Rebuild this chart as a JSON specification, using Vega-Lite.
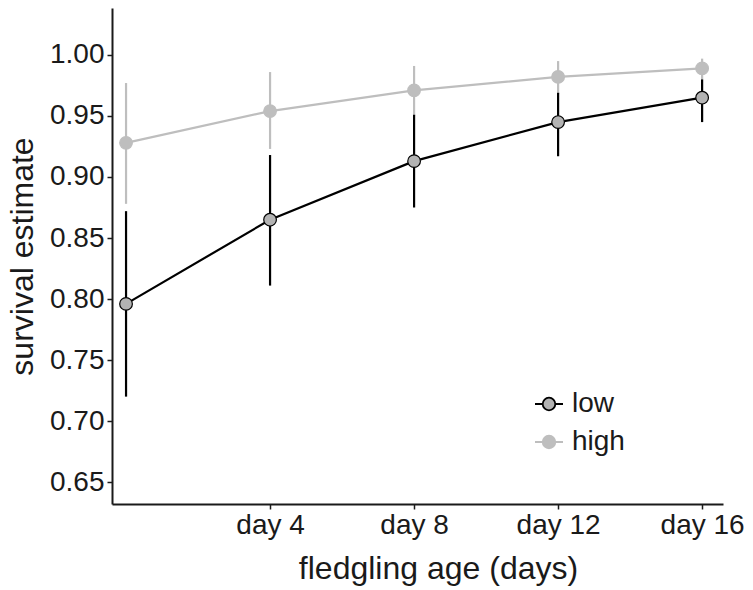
{
  "$schema": "https://vega.github.io/schema/vega-lite/v6.json",
  "autosize": {"type": "none"},
  "padding": {"left": 112, "top": 8, "right": 30, "bottom": 86},
  "width": 611,
  "height": 496,
  "background": "white",
  "config": {
    "font": "Liberation Sans",
    "view": {"stroke": null},
    "axis": {
      "grid": false,
      "domainColor": "#1a1a1a",
      "domainWidth": 2,
      "tickColor": "#1a1a1a",
      "tickWidth": 1.5,
      "tickSize": 5,
      "labelFont": "Liberation Sans",
      "labelFontSize": 28,
      "labelColor": "#1a1a1a",
      "titleFont": "Liberation Sans",
      "titleFontSize": 32,
      "titleFontWeight": "normal",
      "titleColor": "#1a1a1a"
    },
    "legend": {
      "labelFont": "Liberation Sans",
      "labelFontSize": 28,
      "labelColor": "#1a1a1a"
    }
  },
  "data": {
    "values": [
      {"day": 0, "group": "high", "est": 0.928, "lo": 0.878, "hi": 0.977},
      {"day": 4, "group": "high", "est": 0.954, "lo": 0.923, "hi": 0.986},
      {"day": 8, "group": "high", "est": 0.971, "lo": 0.950, "hi": 0.991},
      {"day": 12, "group": "high", "est": 0.982, "lo": 0.968, "hi": 0.995},
      {"day": 16, "group": "high", "est": 0.989, "lo": 0.980, "hi": 0.997},
      {"day": 0, "group": "low", "est": 0.796, "lo": 0.720, "hi": 0.872},
      {"day": 4, "group": "low", "est": 0.865, "lo": 0.811, "hi": 0.918},
      {"day": 8, "group": "low", "est": 0.913, "lo": 0.875, "hi": 0.951},
      {"day": 12, "group": "low", "est": 0.945, "lo": 0.917, "hi": 0.969},
      {"day": 16, "group": "low", "est": 0.965, "lo": 0.945, "hi": 0.980}
    ]
  },
  "encoding": {
    "x": {
      "field": "day",
      "type": "quantitative",
      "scale": {"domain": [-0.39, 16.58], "nice": false, "zero": false},
      "axis": {
        "values": [4, 8, 12, 16],
        "labelExpr": "'day ' + datum.value",
        "title": "fledgling age (days)",
        "labelPadding": 2,
        "titlePadding": 14,
        "titleX": 326
      }
    }
  },
  "layer": [
    {
      "mark": {"type": "rule", "strokeWidth": 2.2},
      "encoding": {
        "y": {
          "field": "lo",
          "type": "quantitative",
          "scale": {"domain": [0.632, 1.0385], "nice": false, "zero": false},
          "axis": {
            "values": [0.65, 0.7, 0.75, 0.8, 0.85, 0.9, 0.95, 1.0],
            "format": ".2f",
            "title": "survival estimate",
            "labelPadding": 3,
            "titlePadding": 10
          }
        },
        "y2": {"field": "hi"},
        "stroke": {
          "field": "group",
          "type": "nominal",
          "scale": {"domain": ["low", "high"], "range": ["#000000", "#bebebe"]}
        }
      }
    },
    {
      "mark": {"type": "line", "strokeWidth": 2.2},
      "encoding": {
        "y": {"field": "est", "type": "quantitative"},
        "stroke": {"field": "group", "type": "nominal"}
      }
    },
    {
      "mark": {"type": "point", "filled": true, "size": 160, "strokeWidth": 1.2, "opacity": 1},
      "encoding": {
        "y": {"field": "est", "type": "quantitative"},
        "stroke": {"field": "group", "type": "nominal",
          "legend": {
            "title": null,
            "orient": "none",
            "legendX": 422,
            "legendY": 381,
            "symbolType": "M-1,0L-0.45,0M0.45,0L1,0M0.45,0A0.45,0.45,0,1,1,-0.45,0A0.45,0.45,0,1,1,0.45,0Z",
            "symbolSize": 784,
            "symbolStrokeWidth": 1.8,
            "labelOffset": 8,
            "rowPadding": 9
          }
        },
        "fill": {
          "field": "group",
          "type": "nominal",
          "scale": {"domain": ["low", "high"], "range": ["#b3b3b3", "#bebebe"]},
          "legend": {
            "title": null,
            "orient": "none",
            "legendX": 422,
            "legendY": 381,
            "symbolType": "M-1,0L-0.45,0M0.45,0L1,0M0.45,0A0.45,0.45,0,1,1,-0.45,0A0.45,0.45,0,1,1,0.45,0Z",
            "symbolSize": 784,
            "symbolStrokeWidth": 1.8,
            "labelOffset": 8,
            "rowPadding": 9
          }
        }
      }
    }
  ]
}
